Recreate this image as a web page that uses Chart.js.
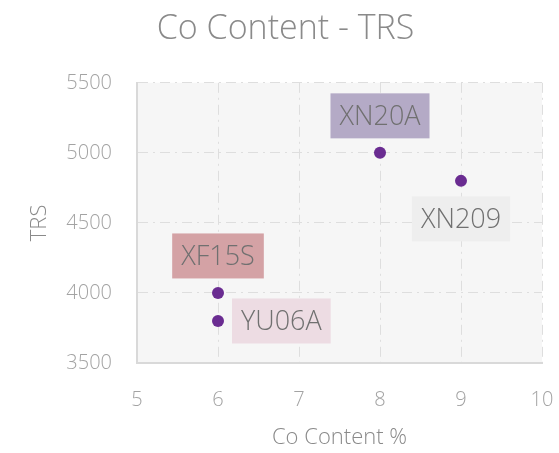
<!DOCTYPE html>
<html>
<head>
<meta charset="utf-8">
<script src="https://cdn.jsdelivr.net/npm/chart.js@4.4.0/dist/chart.umd.min.js"></script>
<style>
  html, body { margin: 0; padding: 0; background: #fff; }
  #wrap { width: 559px; height: 453px; }
</style>
</head>
<body>
<div id="wrap"><canvas id="coChart"></canvas></div>
<script>
// values
const gradeNames = ['XF15S', 'YU06A', 'XN20A', 'XN209'];
const coContent = [6, 6, 8, 9];
const trsValues = [4000, 3800, 5000, 4800];

// label boxes: fill colour and which side of the point they sit on
const labelColors = ['#d4a2a5', '#eddce3', '#b4aac6', '#eeeeee'];
const labelSides = ['top', 'right', 'top', 'bottom'];

Chart.defaults.font.family = '"Open Sans", sans-serif';

// light grey fill behind the plot area
const plotBackground = {
  id: 'plotBackground',
  beforeDraw(chart) {
    const { ctx, chartArea: a } = chart;
    ctx.save();
    ctx.fillStyle = '#f6f6f6';
    ctx.fillRect(a.left, a.top, a.right - a.left, a.bottom - a.top);
    ctx.restore();
  }
};

// grade names in coloured boxes next to each point
const pointLabels = {
  id: 'pointLabels',
  afterDatasetsDraw(chart) {
    const ctx = chart.ctx;
    const meta = chart.getDatasetMeta(0);
    ctx.save();
    ctx.font = '300 27px "Open Sans"';
    ctx.textAlign = 'center';
    ctx.textBaseline = 'middle';
    meta.data.forEach((pt, i) => {
      const w = ctx.measureText(gradeNames[i]).width + 18;
      const h = 45;
      let cx = pt.x, cy = pt.y;
      if (labelSides[i] === 'top') cy -= 37;
      else if (labelSides[i] === 'bottom') cy += 38;
      else if (labelSides[i] === 'right') cx += 14 + w / 2;
      ctx.fillStyle = labelColors[i];
      ctx.fillRect(cx - w / 2, cy - h / 2, w, h);
      ctx.fillStyle = '#707070';
      ctx.fillText(gradeNames[i], cx, cy + 1);
    });
    ctx.restore();
  }
};

const ctx = document.getElementById('coChart').getContext('2d');
const coChart = new Chart(ctx, {
  type: 'scatter',
  data: {
    datasets: [{
      label: 'TRS',
      data: coContent.map((x, i) => ({ x: x, y: trsValues[i] })),
      backgroundColor: '#6a2c91',
      borderWidth: 0,
      pointRadius: 6,
      pointHoverRadius: 6
    }]
  },
  options: {
    responsive: true,
    maintainAspectRatio: false,
    animation: false,
    layout: { padding: { left: 12, right: 0, top: 0, bottom: 0 } },
    plugins: {
      legend: { display: false },
      tooltip: { enabled: false },
      title: {
        display: true,
        text: 'Co Content - TRS',
        color: '#8a8a8a',
        font: { size: 34, weight: 300 },
        padding: { top: 9, bottom: 33 }
      }
    },
    scales: {
      x: {
        type: 'linear',
        min: 5,
        max: 10,
        ticks: { stepSize: 1, color: '#a3a3a3', font: { size: 20, weight: 300 }, padding: 25 },
        grid: { color: '#dedede', drawTicks: false },
        border: { color: '#d9d9d9', width: 2, dash: [10, 5, 2, 5] },
        title: {
          display: true,
          text: 'Co Content %',
          color: '#8a8a8a',
          font: { size: 22, weight: 300 },
          padding: { top: 0, bottom: 2 }
        },
        afterFit(scale) {
          scale.height = 90;
          scale.paddingRight = 17;
        }
      },
      y: {
        min: 3500,
        max: 5500,
        ticks: {
          stepSize: 500,
          color: '#a3a3a3',
          font: { size: 20, weight: 300 },
          padding: 25,
          callback: (v) => String(v)
        },
        grid: { color: '#dedede', drawTicks: false },
        border: { color: '#d9d9d9', width: 2, dash: [10, 5, 2, 5] },
        title: {
          display: true,
          text: 'TRS',
          color: '#8a8a8a',
          font: { size: 22, weight: 300 },
          padding: { top: 15, bottom: 0 }
        },
        afterFit(scale) { scale.width = 125; }
      }
    }
  },
  plugins: [plotBackground, pointLabels]
});
</script>
</body>
</html>
